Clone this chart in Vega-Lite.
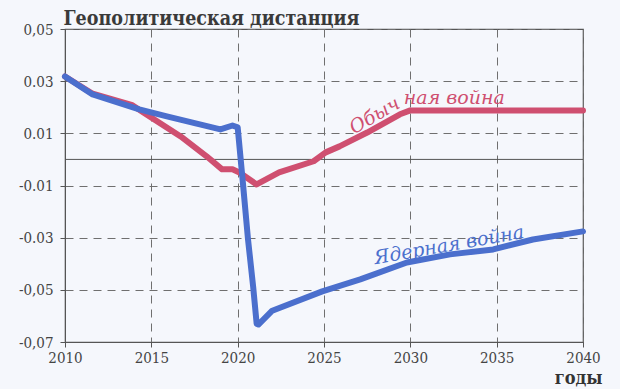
{
  "$schema": "https://vega.github.io/schema/vega-lite/v6.json",
  "width": 518,
  "height": 313,
  "autosize": "none",
  "padding": {"left": 65, "top": 29, "right": 37, "bottom": 47},
  "background": "#f5f7fc",
  "config": {
    "view": {"stroke": "#555555", "strokeWidth": 1.2},
    "axis": {
      "labelFont": "DejaVu Serif Condensed, DejaVu Serif",
      "labelFontSize": 15,
      "labelColor": "#444444",
      "labelFlush": false,
      "domainColor": "#555555",
      "tickColor": "#555555",
      "tickSize": 5,
      "gridColor": "#6f6f6f",
      "gridDash": [8, 6],
      "gridWidth": 1
    }
  },
  "datasets": {
    "lines": [
      {"year": 2010, "value": 0.0318, "series": "Обычная война"},
      {"year": 2011.6, "value": 0.0252, "series": "Обычная война"},
      {"year": 2013.9, "value": 0.0208, "series": "Обычная война"},
      {"year": 2014.7, "value": 0.0173, "series": "Обычная война"},
      {"year": 2016.7, "value": 0.0088, "series": "Обычная война"},
      {"year": 2018.2, "value": 0.0012, "series": "Обычная война"},
      {"year": 2019.1, "value": -0.0038, "series": "Обычная война"},
      {"year": 2019.7, "value": -0.0038, "series": "Обычная война"},
      {"year": 2020.1, "value": -0.005, "series": "Обычная война"},
      {"year": 2021.1, "value": -0.0096, "series": "Обычная война"},
      {"year": 2022.4, "value": -0.005, "series": "Обычная война"},
      {"year": 2024.4, "value": -0.0007, "series": "Обычная война"},
      {"year": 2025.1, "value": 0.0027, "series": "Обычная война"},
      {"year": 2025.9, "value": 0.005, "series": "Обычная война"},
      {"year": 2027.5, "value": 0.0103, "series": "Обычная война"},
      {"year": 2029.4, "value": 0.0173, "series": "Обычная война"},
      {"year": 2030.0, "value": 0.0188, "series": "Обычная война"},
      {"year": 2040, "value": 0.0188, "series": "Обычная война"},
      {"year": 2010, "value": 0.0318, "series": "Ядерная война"},
      {"year": 2011.6, "value": 0.0249, "series": "Ядерная война"},
      {"year": 2014.3, "value": 0.0192, "series": "Ядерная война"},
      {"year": 2015.9, "value": 0.0165, "series": "Ядерная война"},
      {"year": 2019.0, "value": 0.0115, "series": "Ядерная война"},
      {"year": 2019.7, "value": 0.013, "series": "Ядерная война"},
      {"year": 2020.0, "value": 0.0123, "series": "Ядерная война"},
      {"year": 2020.3, "value": -0.0088, "series": "Ядерная война"},
      {"year": 2020.6, "value": -0.0307, "series": "Ядерная война"},
      {"year": 2020.9, "value": -0.049, "series": "Ядерная война"},
      {"year": 2021.1, "value": -0.063, "series": "Ядерная война"},
      {"year": 2021.2, "value": -0.0633, "series": "Ядерная война"},
      {"year": 2022.0, "value": -0.058, "series": "Ядерная война"},
      {"year": 2024.9, "value": -0.0506, "series": "Ядерная война"},
      {"year": 2027.1, "value": -0.046, "series": "Ядерная война"},
      {"year": 2029.8, "value": -0.0395, "series": "Ядерная война"},
      {"year": 2032.3, "value": -0.0364, "series": "Ядерная война"},
      {"year": 2034.8, "value": -0.0345, "series": "Ядерная война"},
      {"year": 2037.1, "value": -0.0307, "series": "Ядерная война"},
      {"year": 2040, "value": -0.0276, "series": "Ядерная война"}
    ],
    "labels": [
      {"year": 2028.1, "value": 0.0148, "text": "Обыч", "series": "Обычная война", "angle": -30},
      {"year": 2032.55, "value": 0.0213, "text": "ная война", "series": "Обычная война", "angle": 0},
      {"year": 2032.3, "value": -0.0351, "text": "Ядерная война", "series": "Ядерная война", "angle": -10}
    ],
    "zero": [{"value": 0}]
  },
  "encoding": {
    "x": {
      "field": "year",
      "type": "quantitative",
      "scale": {"domain": [2010, 2040], "nice": false, "zero": false},
      "axis": {
        "values": [2010, 2015, 2020, 2025, 2030, 2035, 2040],
        "format": "d",
        "grid": true,
        "labelPadding": 3,
        "title": "годы",
        "titleFont": "DejaVu Serif Condensed, DejaVu Serif",
        "titleFontSize": 18,
        "titleFontWeight": "bold",
        "titleColor": "#333333",
        "titleAlign": "right",
        "titleAnchor": "end",
        "titleX": 537,
        "titleY": 41,
        "titleBaseline": "alphabetic"
      }
    },
    "y": {
      "field": "value",
      "type": "quantitative",
      "scale": {"domain": [-0.07, 0.05], "nice": false, "zero": false},
      "axis": {
        "values": [0.05, 0.03, 0.01, -0.01, -0.03, -0.05, -0.07],
        "grid": true,
        "labelPadding": 7,
        "title": "Геополитическая дистанция",
        "titleFont": "DejaVu Serif Condensed, DejaVu Serif",
        "titleFontSize": 19.5,
        "titleFontWeight": "bold",
        "titleColor": "#3a3a3a",
        "titleAngle": 0,
        "titleAlign": "left",
        "titleBaseline": "alphabetic",
        "titleX": -2,
        "titleY": -5,
        "labelExpr": "datum.value > 0.04 ? '0,05' : datum.value > 0.02 ? '0.03' : datum.value > 0 ? '0.01' : datum.value > -0.02 ? '-0.01' : datum.value > -0.04 ? '-0.03' : datum.value > -0.06 ? '-0,05' : '-0,07'"
      }
    }
  },
  "layer": [
    {
      "data": {"name": "zero"},
      "mark": {"type": "rule", "color": "#555555", "strokeWidth": 1},
      "encoding": {"x": null, "y": {"field": "value", "type": "quantitative"}}
    },
    {
      "data": {"name": "lines"},
      "transform": [{"filter": "datum.series == 'Обычная война'"}],
      "mark": {"type": "line", "strokeWidth": 6, "strokeCap": "round", "strokeJoin": "round", "color": "#cf4f70"}
    },
    {
      "data": {"name": "lines"},
      "transform": [{"filter": "datum.series == 'Ядерная война'"}],
      "mark": {"type": "line", "strokeWidth": 6, "strokeCap": "round", "strokeJoin": "round", "color": "#4b6fcd"}
    },
    {
      "data": {"name": "labels"},
      "mark": {"type": "text", "font": "DejaVu Serif", "fontStyle": "italic", "fontSize": 19, "align": "center", "baseline": "alphabetic"},
      "encoding": {
        "text": {"field": "text"},
        "angle": {"field": "angle", "type": "quantitative", "scale": null},
        "color": {
          "field": "series",
          "type": "nominal",
          "scale": {"domain": ["Обычная война", "Ядерная война"], "range": ["#cf4f70", "#4b6fcd"]},
          "legend": null
        }
      }
    }
  ]
}
